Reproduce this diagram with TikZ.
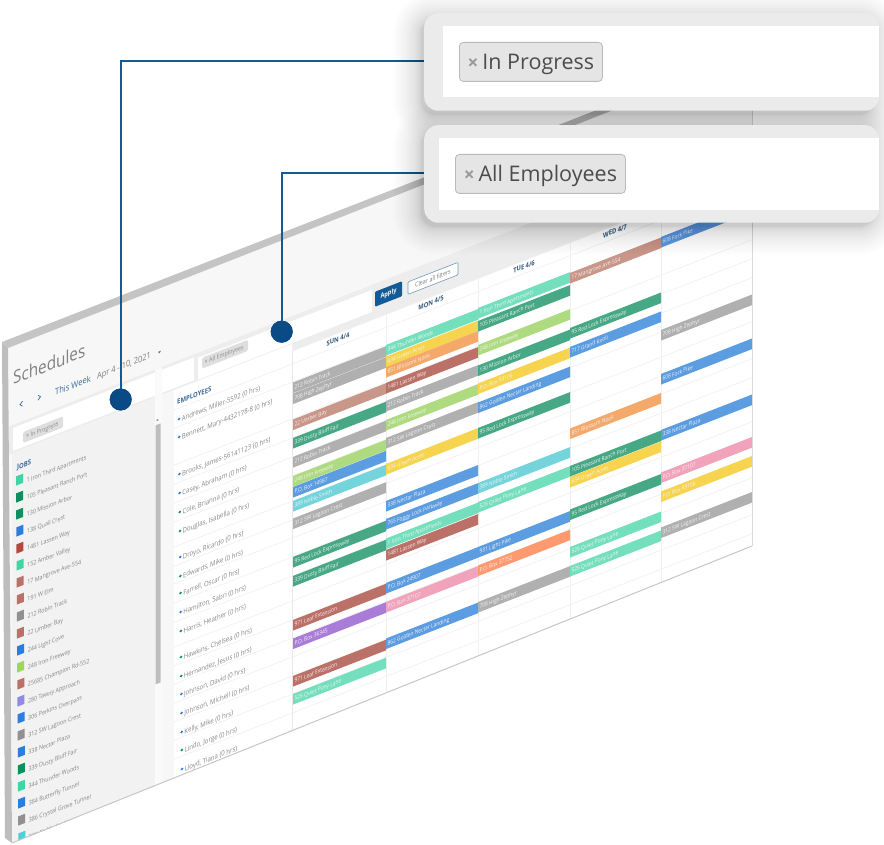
\documentclass[tikz,border=0pt]{standalone}
\usepackage{fontspec}
\setmainfont{Open Sans}
\newcommand{\fs}[1]{\fontsize{#1}{#1}\selectfont}
\definecolor{cgray}{HTML}{B0B0B0}
\definecolor{cmint}{HTML}{74DFBC}
\definecolor{cgreen}{HTML}{47A885}
\definecolor{cyell}{HTML}{F7D450}
\definecolor{corange}{HTML}{F4A96B}
\definecolor{cbrick}{HTML}{BC7168}
\definecolor{ctan}{HTML}{C9968A}
\definecolor{clgreen}{HTML}{AEDB80}
\definecolor{cblue}{HTML}{5C9CE0}
\definecolor{cteal}{HTML}{74D4DC}
\definecolor{cpurple}{HTML}{A97CD8}
\definecolor{cpink}{HTML}{F0A3BA}
\definecolor{ccoral}{HTML}{FF9A70}
\definecolor{sqmint}{HTML}{3FD6A5}
\definecolor{sqgreen}{HTML}{0E8F5F}
\definecolor{sqblue}{HTML}{2A7DE1}
\definecolor{sqred}{HTML}{B5483F}
\definecolor{sqbrick}{HTML}{BC7168}
\definecolor{sqgray}{HTML}{919191}
\definecolor{sqlgreen}{HTML}{9CD85C}
\definecolor{sqpurple}{HTML}{9089E5}
\definecolor{sqteal}{HTML}{4FCFD8}
\definecolor{navy}{HTML}{0A4A85}
\definecolor{linkblue}{HTML}{0F5C99}
\definecolor{headblue}{HTML}{3B6A9A}
\tikzset{
  slanttext/.style={inner sep=0pt,xscale=.85,transform shape},
  barlab/.style={slanttext,anchor=base west,text=white!92!gray,font=\fs{5.7}},
  listlab/.style={slanttext,anchor=base west,text=black!48,font=\fs{6.3}},
  emplab/.style={slanttext,anchor=base west,text=black!48,font=\fs{7.1}},
  headlab/.style={slanttext,anchor=base west,text=headblue,font=\fs{7}\bfseries},
  daylab/.style={slanttext,anchor=center,text=black!15!headblue,font=\fs{6.8}\bfseries},
  rowline/.style={draw=black!6,line width=.6pt},
  colline/.style={draw=black!6,line width=.9pt},
  panelbox/.style={rectangle,rounded corners=14pt,fill=black!8,inner sep=0pt,anchor=north west},
  inputbox/.style={rectangle,fill=white,inner sep=0pt,anchor=north west},
  bigchip/.style={rectangle,rounded corners=4pt,draw=black!27,line width=.8pt,fill=black!10,inner sep=0pt,anchor=north west,text=black!70,font=\fs{21.5},text height=17pt,text depth=1pt},
  minichip/.style={slanttext,rectangle,rounded corners=1.5pt,fill=black!13,anchor=west,text=black!50,font=\fs{5.8},minimum height=11pt},
  link/.style={draw=linkblue,line width=2pt},
  pin/.style={circle,fill=navy,inner sep=0pt,minimum size=22pt}
}
\newcommand{\jb}[5]{%
  \pgfmathsetmacro{\vv}{#3+.39*#1}%
  \pgfmathsetmacro{\vb}{\vv+10.6}%
  \pgfmathsetmacro{\vt}{\vv+7.6}%
  \pgfmathsetmacro{\ut}{#1+1.5}%
  \fill[#4] (#1,\vv) rectangle (#2,\vb);
  \node[barlab] at (\ut,\vt) {#5};}
\newcommand{\empl}[3]{%
  \pgfmathsetmacro{\ux}{179+(#1-419)*.0086}%
  \pgfmathsetmacro{\vv}{#1+.39*\ux}%
  \pgfmathsetmacro{\ut}{\ux+2.6}%
  \pgfmathsetmacro{\vt}{\vv+2.3+.39*2.6}%
  \fill[#2] (\ux,\vv) circle (1.4);
  \node[emplab] at (\ut,\vt) {#3};}
\newcommand{\job}[3]{%
  \pgfmathsetmacro{\yy}{481+17*#1}%
  \pgfmathsetmacro{\ux}{16+#1*.11}%
  \pgfmathsetmacro{\vv}{\yy+.39*\ux-4.6}%
  \pgfmathsetmacro{\vb}{\vv+9.2}%
  \pgfmathsetmacro{\ue}{\ux+7}%
  \pgfmathsetmacro{\ut}{\ux+10.5}%
  \pgfmathsetmacro{\vt}{\yy+.39*\ut+2}%
  \fill[#2] (\ux,\vv) rectangle (\ue,\vb);
  \node[listlab] at (\ut,\vt) {#3};}
\begin{document}
\begin{tikzpicture}[x=1pt,y=-1pt]
\useasboundingbox (0,0) rectangle (884,845);
\fill[white] (0,0) rectangle (884,845);
% ---- sheet
\fill[white] (2,342) -- (752,49.5) -- (752,546) -- (12,843) -- (5,838) -- cycle;
\begin{scope}
\clip (8,348) -- (752,55.5) -- (752,546) -- (12,843) -- cycle;
\begin{scope}[yslant=.39]
  \fill[black!3] (0,340) rectangle (760,470);
  \fill[black!7] (8,430) rectangle (760,465);
  \fill[black!3] (0,458) rectangle (174,860);
  \fill[black!5] (12,458) rectangle (160,860);
  \fill[white] (174,458) rectangle (292,860);
  \fill[white] (292,465) rectangle (760,860);
  % filter inputs
  \fill[white] (13,433) rectangle (194,456);
  \fill[white] (198,435) rectangle (372,457);
  \node[minichip,minimum width=47pt] (chipa) at (23,446.5) {};
  \node[slanttext,anchor=base west,text=black!45,font=\fs{6.3}] (chipatxt) at (26,448.7) {× In Progress};
  \node[minichip,minimum width=54pt] (chipb) at (202,442) {};
  \node[slanttext,anchor=base west,text=black!45,font=\fs{6.3}] (chipbtxt) at (204.5,444.2) {× All Employees};
  % header
  \node[slanttext,anchor=base west,text=black!50,font=\fs{18}] (title) at (13,390) {Schedules};
  \node[slanttext,anchor=base west,text=headblue,font=\fs{8.9}] (week) at (55,417) {This Week};
  \node[slanttext,anchor=base west,text=black!52,font=\fs{8.7}] (range) at (97,417) {Apr 4 - 10, 2021};
  \fill[black!55] (158,413.5) -- (161,413.5) -- (159.5,415.5) -- cycle;
  \draw[headblue,line width=.7pt] (22.5,410) -- (20,412.5) -- (22.5,415);
  \draw[headblue,line width=.7pt] (38,410) -- (40.5,412.5) -- (38,415);
  % buttons
  \fill[linkblue,rounded corners=1pt] (375,438) rectangle (402,453);
  \node[slanttext,anchor=center,text=white,font=\fs{6.6}\bfseries] (apply) at (388.5,445.5) {Apply};
  \draw[fill=white,draw=headblue!70,line width=.6pt,rounded corners=1pt] (408,441) rectangle (458,453.5);
  \node[slanttext,anchor=center,text=black!52,font=\fs{6.3}] (clear) at (433,447.2) {Clear all filters};
  % scrollbar
  \fill[black!2] (155,430) rectangle (162,860);
  \fill[black!26] (155.5,486) rectangle (160.5,745);
  \fill[black!50] (156.2,482) -- (158.8,482) -- (157.5,480.5) -- cycle;
  % sidebar
  \node[headlab] (jobs) at (17,476.5) {JOBS};
  \job{0}{sqmint}{1 Iron Third Apartments}
  \job{1}{sqgreen}{105 Pleasant Ranch Port}
  \job{2}{sqgreen}{130 Mission Arbor}
  \job{3}{sqblue}{138 Quail Crest}
  \job{4}{sqred}{1481 Lassen Way}
  \job{5}{sqmint}{152 Amber Valley}
  \job{6}{sqbrick}{17 Mangrove Ave-554}
  \job{7}{sqbrick}{191 W Elm}
  \job{8}{sqgray}{212 Robin Track}
  \job{9}{sqbrick}{22 Umber Bay}
  \job{10}{sqblue}{244 Light Cove}
  \job{11}{sqlgreen}{248 Iron Freeway}
  \job{12}{sqbrick}{25685 Champion Rd-552}
  \job{13}{sqpurple}{280 Tawny Approach}
  \job{14}{sqblue}{306 Perkins Overpass}
  \job{15}{sqgray}{312 SW Lagoon Crest}
  \job{16}{sqblue}{338 Nectar Plaza}
  \job{17}{sqgreen}{339 Dusty Bluff Fair}
  \job{18}{sqmint}{344 Thunder Woods}
  \job{19}{sqblue}{384 Butterfly Tunnel}
  \job{20}{sqgray}{386 Crystal Grove Tunnel}
  \job{21}{sqteal}{389 Noble Smith}
  % grid
  \draw[rowline] (292,465) -- (760,465);
  \foreach \rv in {478,496,533,552,571,590,615,634,652,671,690,715,734,752,771,790,808,827,846}
    \draw[rowline] (174,\rv) -- (760,\rv);
  \foreach \cx in {386,478,570,661}
    \draw[colline] (\cx,465) -- (\cx,860);
  \draw[draw=black!9,line width=1pt] (292,465) -- (292,860);
  % employees
  \node[headlab] (emphead) at (177,474) {EMPLOYEES};
  \empl{419}{sqblue}{Andrews, Miller-5592 (0 hrs)}
  \empl{437}{sqblue}{Bennett, Mary-4432178-8 (0 hrs)}
  \empl{474}{sqblue}{Brooks, James-56141123 (0 hrs)}
  \empl{493}{sqblue}{Casey, Abraham (0 hrs)}
  \empl{512}{sqgreen}{Cole, Brianna (0 hrs)}
  \empl{531}{sqgreen}{Douglas, Isabella (0 hrs)}
  \empl{557}{sqblue}{Droyo, Ricardo (0 hrs)}
  \empl{576}{sqgreen}{Edwards, Mike (0 hrs)}
  \empl{593}{sqgreen}{Farrell, Oscar (0 hrs)}
  \empl{612}{sqblue}{Hamilton, Sabri (0 hrs)}
  \empl{631}{sqgreen}{Harris, Heather (0 hrs)}
  \empl{657}{sqgreen}{Hawkins, Chelsea (0 hrs)}
  \empl{676}{sqgreen}{Hernandez, Jesus (0 hrs)}
  \empl{694}{sqblue}{Johnson, David (0 hrs)}
  \empl{713}{sqblue}{Johnson, Michell (0 hrs)}
  \empl{732}{sqblue}{Kelly, Mike (0 hrs)}
  \empl{750}{sqgreen}{Lindo, Jorge (0 hrs)}
  \empl{769}{sqblue}{Lloyd, Tiana (0 hrs)}
  % day headers
  \node[daylab] (sun) at (338,471) {SUN 4/4};
  \node[daylab] (mon) at (431,471) {MON 4/5};
  \node[daylab] (tue) at (524,471) {TUE 4/6};
  \node[daylab] (wed) at (615,471) {WED 4/7};
  % SUN
  \jb{293}{386}{382.5}{cgray}{212 Robin Track}
  \jb{293}{386}{393.5}{cgray}{708 High Zephyr}
  \jb{293}{386}{419.5}{ctan}{22 Umber Bay}
  \jb{293}{386}{438}{cgreen}{339 Dusty Bluff Fair}
  \jb{293}{386}{457}{cgray}{212 Robin Track}
  \jb{293}{386}{476}{clgreen}{248 Iron Freeway}
  \jb{293}{386}{487}{cblue}{P.O. Box 14987}
  \jb{293}{386}{501}{cteal}{389 Noble Smith}
  \jb{293}{386}{518.5}{cgray}{312 SW Lagoon Crest}
  \jb{293}{386}{557}{cgreen}{95 Red Lock Expressway}
  \jb{293}{386}{576}{cgreen}{339 Dusty Bluff Fair}
  \jb{293}{386}{620}{cbrick}{971 Leaf Extension}
  \jb{293}{386}{638.5}{cpurple}{P.O. Box 36345}
  \jb{293}{386}{676}{cbrick}{971 Leaf Extension}
  \jb{293}{386}{694}{cmint}{526 Quiet Pony Lane}
  % MON
  \jb{386}{478}{345}{cmint}{344 Thunder Woods}
  \jb{386}{478}{356.5}{cyell}{634 Green Acres}
  \jb{386}{478}{367}{corange}{851 Blossom Nook}
  \jb{386}{478}{383}{cbrick}{1481 Lassen Way}
  \jb{386}{478}{401}{cgray}{212 Robin Track}
  \jb{386}{478}{420}{clgreen}{248 Iron Freeway}
  \jb{386}{478}{438}{cgray}{312 SW Lagoon Crest}
  \jb{386}{478}{464}{cyell}{634 Green Acres}
  \jb{386}{478}{501}{cblue}{338 Nectar Plaza}
  \jb{386}{478}{519}{cblue}{765 Foggy Lock Parkway}
  \jb{386}{478}{538.5}{cmint}{1 Iron Third Apartments}
  \jb{386}{478}{550}{cbrick}{1481 Lassen Way}
  \jb{386}{478}{583}{cblue}{P.O. Box 24907}
  \jb{386}{478}{602}{cpink}{P.O. Box 37107}
  \jb{386}{478}{638.5}{cblue}{862 Golden Nectar Landing}
  % TUE
  \jb{478}{570}{308}{cmint}{1 Iron Third Apartments}
  \jb{478}{570}{321}{cgreen}{105 Pleasant Ranch Port}
  \jb{478}{570}{345}{clgreen}{248 Iron Freeway}
  \jb{478}{570}{365.5}{cgreen}{130 Mission Arbor}
  \jb{478}{570}{383.5}{cyell}{P.O. Box 93106}
  \jb{478}{570}{402.5}{cblue}{862 Golden Nectar Landing}
  \jb{478}{570}{428}{cgreen}{95 Red Lock Expressway}
  \jb{478}{570}{483}{cteal}{389 Noble Smith}
  \jb{478}{570}{502}{cmint}{526 Quiet Pony Lane}
  \jb{478}{570}{547}{cblue}{931 Light Pike}
  \jb{478}{570}{565.5}{ccoral}{P.O. Box 37752}
  \jb{478}{570}{602}{cgray}{708 High Zephyr}
  % WED
  \jb{570}{661}{273}{ctan}{17 Mangrove Ave-554}
  \jb{570}{661}{328}{cgreen}{95 Red Lock Expressway}
  \jb{570}{661}{347}{cblue}{717 Grand Knoll}
  \jb{570}{661}{428.5}{corange}{851 Blossom Nook}
  \jb{570}{661}{466}{cgreen}{105 Pleasant Ranch Port}
  \jb{570}{661}{477}{cyell}{634 Green Acres}
  \jb{570}{661}{509.5}{cgreen}{95 Red Lock Expressway}
  \jb{570}{661}{547}{cmint}{526 Quiet Pony Lane}
  \jb{570}{661}{566}{cmint}{526 Quiet Pony Lane}
  % THU
  \jb{661}{752}{237}{cblue}{608 Fork Pike}
  \jb{661}{752}{330}{cgray}{708 High Zephyr}
  \jb{661}{752}{374}{cblue}{608 Fork Pike}
  \jb{661}{752}{430}{cblue}{338 Nectar Plaza}
  \jb{661}{752}{472.5}{cpink}{P.O. Box 37107}
  \jb{661}{752}{491.5}{cyell}{P.O. Box 93106}
  \jb{661}{752}{527.5}{cgray}{312 SW Lagoon Crest}
\end{scope}
\end{scope}
% sheet edges
\fill[black!23] (2,342) -- (752,49.5) -- (752,55.5) -- (8,348) -- cycle;
\fill[black!26] (2,342) -- (8,348) -- (12,843) -- (5,838) -- cycle;
\draw[black!14,line width=1pt] (752,52) -- (752,546);
\draw[black!22,line width=1pt] (12,843) -- (752,546);
% pins
\node[pin] (pina) at (120.7,399.5) {};
\node[pin] (pinb) at (281.7,331.7) {};
% connectors
\draw[link] (424,61.5) -| (pina.center);
\draw[link] (424,173.5) -| (pinb.center);
\node[pin] at (pina.center) {};
\node[pin] at (pinb.center) {};
% panel shadows: layers packed close to the panel, so the edge fades out
\foreach \k in {1,...,26}{
  \pgfmathsetmacro{\ee}{\k*\k/24}
  \pgfmathsetmacro{\rr}{14+\ee}
  \fill[black,opacity=.0085,rounded corners=\rr pt] (424-\ee-3,13-\ee+7) rectangle (879+\ee-6,110.5+\ee+4);
  \fill[black,opacity=.0085,rounded corners=\rr pt] (424-\ee-3,125-\ee+7) rectangle (879+\ee-6,222.5+\ee+4);
}
% panels
\node[panelbox,minimum width=455pt,minimum height=97.5pt] (panela) at (424,13) {};
\node[inputbox,minimum width=436pt,minimum height=71pt] (inputa) at (443,26) {};
\node[bigchip,minimum width=143pt,minimum height=39pt] (biga) at (459,42) {{\color{black!40}\fs{19}\bfseries×}\hspace{4pt}In Progress};
\node[panelbox,minimum width=455pt,minimum height=97.5pt] (panelb) at (424,125) {};
\node[inputbox,minimum width=440pt,minimum height=72pt] (inputb) at (439,138) {};
\node[bigchip,minimum width=170pt,minimum height=39pt] (bigb) at (455,154) {{\color{black!40}\fs{19}\bfseries×}\hspace{4pt}All Employees};
\end{tikzpicture}
\end{document}
